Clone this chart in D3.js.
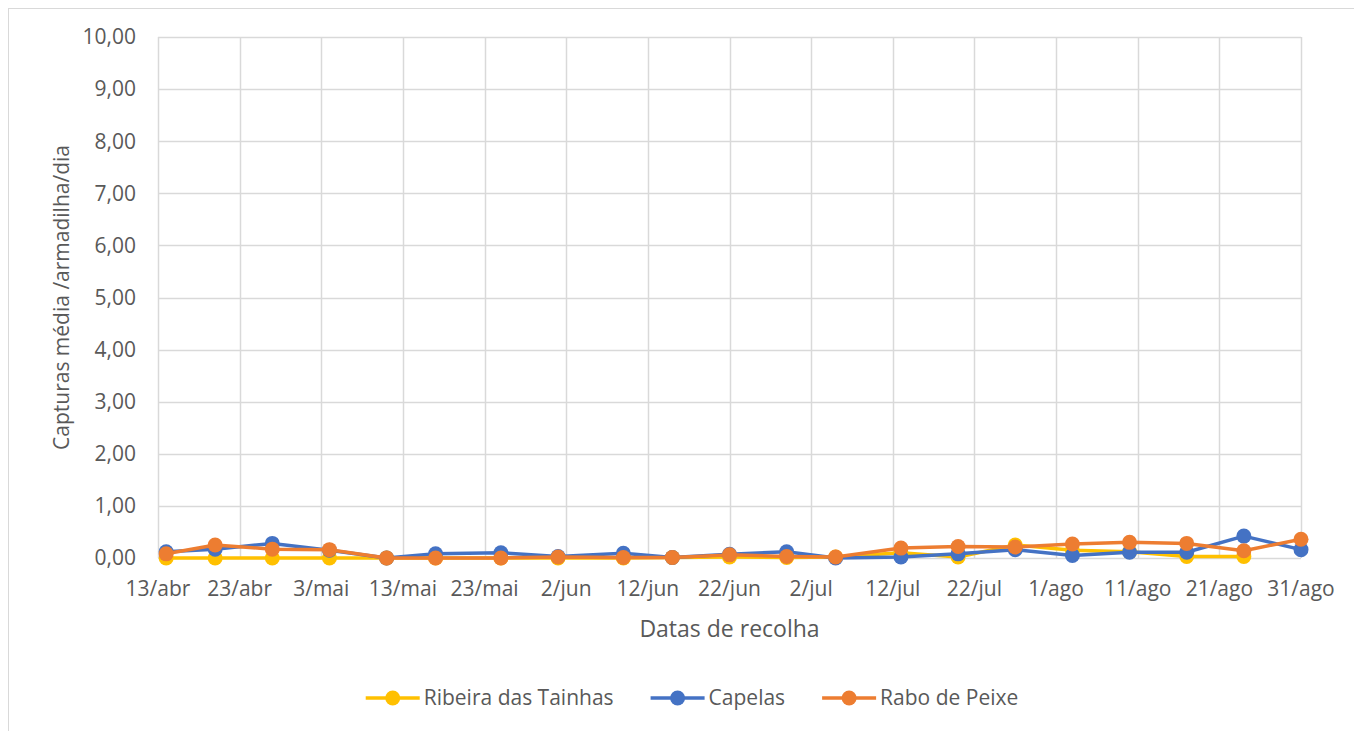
<!DOCTYPE html>
<html>
<head>
<meta charset="utf-8">
<script src="https://cdn.jsdelivr.net/npm/d3@7"></script>
<style>
  body { margin: 0; background: #fff; }
  text { font-family: "Open Sans", sans-serif; fill: #595959; }
</style>
</head>
<body>
<script>
// data
var dates = ["14/4","20/4","27/4","4/5","11/5","17/5","25/5","1/6","9/6","15/6","22/6",
             "29/6","5/7","13/7","20/7","27/7","3/8","10/8","17/8","24/8","31/8"];
var ribeira = [0,0,0,0,0,0,0,0,0,0.01,0.02,0.01,0.02,0.1,0.02,0.25,0.15,0.12,0.03,0.03,null];
var capelas = [0.12,0.17,0.28,0.15,0,0.08,0.1,0.03,0.09,0.01,0.07,0.12,0,0.02,0.08,0.16,0.05,0.11,0.11,0.42,0.16];
var rabo    = [0.08,0.25,0.17,0.16,0,0,0,0.02,0.01,0.01,0.06,0.03,0.02,0.19,0.22,0.21,0.27,0.3,0.28,0.14,0.36];
var tickLabels = ["13/abr","23/abr","3/mai","13/mai","23/mai","2/jun","12/jun","22/jun",
                  "2/jul","12/jul","22/jul","1/ago","11/ago","21/ago","31/ago"];
var yTicks = [0,1,2,3,4,5,6,7,8,9,10];

var series = [
  {name: "Ribeira das Tainhas", color: "#FFC000", values: ribeira},
  {name: "Capelas", color: "#4472C4", values: capelas},
  {name: "Rabo de Peixe", color: "#ED7D31", values: rabo}
];

var W = 1354, H = 731;
var margin = {top: 37, right: 53, bottom: 173, left: 158};

var parse = function(s) { var p = s.split("/"); return new Date(2019, +p[1] - 1, +p[0]); };
var start = new Date(2019, 3, 13), end = new Date(2019, 7, 31);
var tickDates = tickLabels.map(function(d, i) { return d3.timeDay.offset(start, i * 10); });

var x = d3.scaleTime().domain([start, end]).range([margin.left, W - margin.right]);
var y = d3.scaleLinear().domain([0, 10]).range([H - margin.bottom, margin.top]);

var svg = d3.select("body").append("svg")
    .attr("width", W)
    .attr("height", H);

// chart frame
svg.append("rect")
    .attr("x", 8.5).attr("y", 8.5)
    .attr("width", W + 10).attr("height", H + 10)
    .attr("fill", "none").attr("stroke", "#d9d9d9");

// grid
svg.append("g").selectAll("line.h").data(yTicks).enter().append("line")
    .attr("x1", margin.left).attr("x2", W - margin.right)
    .attr("y1", function(d) { return Math.round(y(d)) + 0.5; })
    .attr("y2", function(d) { return Math.round(y(d)) + 0.5; })
    .attr("stroke", "#d9d9d9").attr("stroke-width", 1.5);

svg.append("g").selectAll("line.v").data(tickDates).enter().append("line")
    .attr("x1", function(d) { return Math.round(x(d)) + 0.5; })
    .attr("x2", function(d) { return Math.round(x(d)) + 0.5; })
    .attr("y1", y(10)).attr("y2", y(0))
    .attr("stroke", "#d9d9d9").attr("stroke-width", 1.5);

// y tick labels
svg.append("g").selectAll("text").data(yTicks).enter().append("text")
    .attr("x", 136)
    .attr("y", function(d) { return y(d); })
    .attr("dy", "0.35em")
    .attr("text-anchor", "end")
    .style("font-size", "21px")
    .text(function(d) { return d3.format(".2f")(d).replace(".", ","); });

// x tick labels
svg.append("g").selectAll("text").data(tickDates).enter().append("text")
    .attr("x", function(d) { return x(d); })
    .attr("y", 596)
    .attr("text-anchor", "middle")
    .style("font-size", "21px")
    .text(function(d, i) { return tickLabels[i]; });

// axis titles
svg.append("text")
    .attr("x", (margin.left + W - margin.right) / 2)
    .attr("y", 637)
    .attr("text-anchor", "middle")
    .style("font-size", "23px")
    .text("Datas de recolha");

svg.append("text")
    .attr("transform", "translate(69," + y(5) + ") rotate(-90)")
    .attr("text-anchor", "middle")
    .style("font-size", "21px")
    .text("Capturas média /armadilha/dia");

// lines + markers
var line = d3.line()
    .defined(function(d) { return d.v != null; })
    .x(function(d) { return x(d.date); })
    .y(function(d) { return y(d.v); });

series.forEach(function(s) {
  var pts = dates.map(function(d, i) { return {date: parse(d), v: s.values[i]}; });
  var g = svg.append("g");
  g.append("path")
      .datum(pts)
      .attr("d", line)
      .attr("fill", "none")
      .attr("stroke", s.color)
      .attr("stroke-width", 3.5)
      .attr("stroke-linejoin", "round");
  g.selectAll("circle").data(pts.filter(function(d) { return d.v != null; }))
    .enter().append("circle")
      .attr("cx", function(d) { return x(d.date); })
      .attr("cy", function(d) { return y(d.v); })
      .attr("r", 7.5)
      .attr("fill", s.color);
});

// legend, laid out from measured text widths and centred
var leg = svg.append("g").selectAll("g").data(series).enter().append("g");
leg.append("line")
    .attr("x1", 0).attr("x2", 54)
    .attr("stroke", function(d) { return d.color; })
    .attr("stroke-width", 3.5);
leg.append("circle")
    .attr("cx", 27).attr("r", 7.5)
    .attr("fill", function(d) { return d.color; });
leg.append("text")
    .attr("x", 58)
    .attr("dy", "0.35em")
    .style("font-size", "21px")
    .text(function(d) { return d.name; });

var widths = [];
leg.each(function() { widths.push(this.getBBox().width); });
var total = d3.sum(widths) + 37 * (widths.length - 1);
var cx = 692 - total / 2;
leg.attr("transform", function(d, i) {
  var t = "translate(" + cx + ",698)";
  cx += widths[i] + 37;
  return t;
});
</script>
</body>
</html>
